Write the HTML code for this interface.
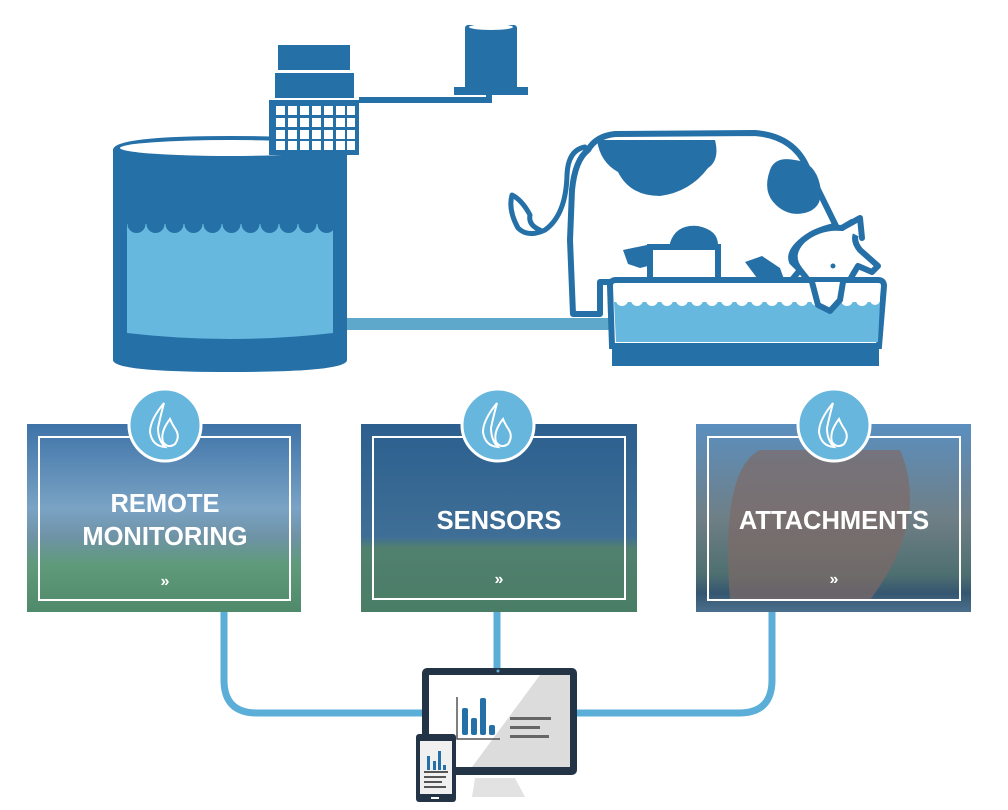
<!DOCTYPE html>
<html><head><meta charset="utf-8"><style>
html,body{margin:0;padding:0;background:#fff;width:1008px;height:810px;overflow:hidden}
svg{display:block}
text{font-family:"Liberation Sans",sans-serif;font-weight:bold;fill:#fff}
</style></head><body>
<svg width="1008" height="810" viewBox="0 0 1008 810" xmlns="http://www.w3.org/2000/svg">
<defs>
<linearGradient id="g1" x1="0" y1="0" x2="0" y2="1">
<stop offset="0" stop-color="#3e73a8"/><stop offset="0.45" stop-color="#7aa3c4"/><stop offset="0.6" stop-color="#6f93a6"/><stop offset="0.75" stop-color="#5f9a7a"/><stop offset="1" stop-color="#4f8a6a"/></linearGradient>
<linearGradient id="g2" x1="0" y1="0" x2="0" y2="1">
<stop offset="0" stop-color="#2c5f8f"/><stop offset="0.6" stop-color="#3f6f96"/><stop offset="0.66" stop-color="#51806f"/><stop offset="1" stop-color="#4a7d66"/></linearGradient>
<linearGradient id="g3" x1="0" y1="0" x2="0" y2="1">
<stop offset="0" stop-color="#5b8fbf"/><stop offset="0.5" stop-color="#6f7f86"/><stop offset="0.8" stop-color="#4e6f70"/><stop offset="0.9" stop-color="#355670"/><stop offset="1" stop-color="#4a6f8c"/></linearGradient>
<pattern id="wave" x="127" y="224" width="19" height="10" patternUnits="userSpaceOnUse">
<circle cx="9.5" cy="0" r="9" fill="#2670a8"/></pattern>
</defs>

<!-- connectors -->
<g fill="none" stroke="#5aaed8" stroke-width="7">
<path d="M224 612 V680 Q224 713 257 713 H422"/>
<path d="M497 612 V668"/>
<path d="M772 612 V680 Q772 713 739 713 H576"/>
</g>

<!-- pipe -->
<rect x="345" y="318" width="265" height="12" fill="#5ea8cc"/>

<!-- tank -->
<path d="M113 150 Q113 136 230 136 Q347 136 347 150 V360 Q347 372 230 372 Q113 372 113 360 Z" fill="#2670a8"/>
<ellipse cx="230" cy="148" rx="110" ry="8" fill="#fff"/>
<path d="M127 224 H333 V333 Q230 345 127 333 Z" fill="#66b8df"/>
<rect x="127" y="224" width="206" height="10" fill="url(#wave)"/>

<!-- sensor -->
<rect x="278" y="45" width="72" height="25" fill="#2670a8"/>
<rect x="275" y="73" width="79" height="25" fill="#2670a8"/>
<rect x="269" y="100" width="90" height="55" fill="#2670a8"/>
<g fill="#fff">
<g id="row"><rect x="276" y="106" width="9" height="9"/><rect x="288" y="106" width="9" height="9"/><rect x="300" y="106" width="9" height="9"/><rect x="312" y="106" width="9" height="9"/><rect x="324" y="106" width="9" height="9"/><rect x="336" y="106" width="9" height="9"/><rect x="347" y="106" width="8" height="9"/></g>
<use href="#row" y="12"/><use href="#row" y="24"/><use href="#row" y="35"/>
</g>
<path d="M359 100 H489 V93" fill="none" stroke="#2670a8" stroke-width="6"/>
<rect x="465" y="25" width="52" height="65" rx="3" fill="#2670a8"/>
<ellipse cx="491" cy="27" rx="22" ry="3" fill="#fff"/>
<rect x="454" y="87" width="74" height="8" fill="#2670a8"/>

<!-- cow -->
<g stroke="#2670a8" stroke-width="6" fill="#fff" stroke-linejoin="round" stroke-linecap="round">
<path d="M588 150 Q596 136 615 134 L755 133 Q792 136 806 165 L836 226 Q820 228 803 240 Q788 252 792 262 L800 270 L790 282 L600 282 L600 314 L573 314 L570 240 L572 190 Q575 160 588 150 Z"/>
<path d="M585 147 Q568 150 567 175 Q566 215 545 230 Q528 238 518 228 Q508 210 512 195 Q522 200 530 215 Q528 225 540 230" fill="none" stroke-width="5"/>
<path d="M803 240 Q820 226 842 228 L852 222 L857 232 Q852 240 860 250 L878 266 L872 272 L858 266 Q848 282 840 300 L830 311 L818 305 L812 285 L800 270 Q788 255 803 240 Z"/>
<path d="M842 228 L860 218 L862 238" />
</g>
<g fill="#2670a8">
<path d="M597 140 L715 140 Q720 160 708 168 Q690 192 660 196 Q630 196 618 172 Q600 162 597 140Z"/>
<path d="M770 170 Q775 156 795 160 Q815 162 820 185 Q824 206 808 212 Q790 218 776 205 Q762 192 770 170Z"/>
<path d="M670 243 Q676 224 698 226 Q718 230 718 245 L670 245Z"/>
<path d="M623 250 L652 244 L652 265 L640 268 L628 264Z"/>
<path d="M745 262 L762 256 L780 268 L785 282 L760 282Z"/>
</g>
<rect x="650" y="247" width="68" height="36" fill="#fff" stroke="#2670a8" stroke-width="6"/>
<circle cx="833" cy="266" r="2.5" fill="#2670a8"/>

<!-- trough -->
<path d="M610 286 Q610 280 616 280 H878 Q884 280 884 286 L879 346 H612 Z" fill="#fff" stroke="#2670a8" stroke-width="6"/>
<path d="M614 302 H880 L878 342 H616 Z" fill="#66b8df"/>
<rect x="612" y="344" width="267" height="22" fill="#2670a8"/>
<g fill="#fff">
<circle cx="622" cy="300" r="6"/><circle cx="637" cy="300" r="6"/><circle cx="652" cy="300" r="6"/><circle cx="667" cy="300" r="6"/><circle cx="682" cy="300" r="6"/><circle cx="697" cy="300" r="6"/><circle cx="712" cy="300" r="6"/><circle cx="727" cy="300" r="6"/><circle cx="742" cy="300" r="6"/><circle cx="757" cy="300" r="6"/><circle cx="772" cy="300" r="6"/><circle cx="787" cy="300" r="6"/><circle cx="802" cy="300" r="6"/><circle cx="817" cy="300" r="6"/><circle cx="832" cy="300" r="6"/><circle cx="847" cy="300" r="6"/><circle cx="862" cy="300" r="6"/><circle cx="875" cy="300" r="5"/>
</g>
<path d="M812 282 L818 305 L830 311 L840 300 L843 282" fill="#fff" stroke="#2670a8" stroke-width="6" stroke-linejoin="round"/>

<!-- panels -->
<rect x="27" y="424" width="274" height="188" fill="url(#g1)"/>
<rect x="361" y="424" width="276" height="188" fill="url(#g2)"/>
<rect x="696" y="424" width="275" height="188" fill="url(#g3)"/>
<path d="M730 600 Q720 470 760 450 L900 450 Q930 520 870 600Z" fill="#7d6a66" opacity="0.7"/>
<g fill="none" stroke="#fff" stroke-width="2">
<rect x="39" y="437" width="251" height="163"/>
<rect x="373" y="437" width="252" height="162"/>
<rect x="708" y="437" width="252" height="163"/>
</g>
<g font-size="25.5" text-anchor="middle">
<text x="165" y="512">REMOTE</text>
<text x="165" y="545">MONITORING</text>
<text x="499" y="529">SENSORS</text>
<text x="834" y="529">ATTACHMENTS</text>
</g>
<g font-size="16" text-anchor="middle"><text x="165" y="586">»</text><text x="499" y="584">»</text><text x="834" y="584">»</text></g>

<!-- circles -->
<g>
<circle cx="165" cy="425" r="36" fill="#66b6dd" stroke="#fff" stroke-width="3"/>
<circle cx="498" cy="425" r="36" fill="#66b6dd" stroke="#fff" stroke-width="3"/>
<circle cx="834" cy="425" r="36" fill="#66b6dd" stroke="#fff" stroke-width="3"/>
</g>
<g id="drop" fill="none" stroke="#fff" stroke-width="2">
<path d="M164 403 Q150 420 150 432 Q152 446 165 447 Q158 440 158 428 Q160 418 164 403Z"/>
<path d="M170 419 Q160 432 163 442 Q168 449 175 444 Q180 437 176 430 Q172 424 170 419Z"/>
</g>
<use href="#drop" x="333"/><use href="#drop" x="669"/>

<!-- monitor -->
<rect x="422" y="668" width="155" height="107" rx="5" fill="#233447"/>
<path d="M429 675 H570 V767 H429 Z" fill="#fff"/>
<path d="M540 675 H570 V767 H472 Z" fill="#dcdcdc"/>
<circle cx="498" cy="671" r="1.5" fill="#5aaed8"/>
<path d="M475 778 H515 L525 797 H472 Z" fill="#e2e2e2"/>
<path d="M457 697 V739 H500" fill="none" stroke="#555" stroke-width="1.5"/>
<g fill="#2670a8"><rect x="462" y="708" width="6" height="27" rx="2"/><rect x="471" y="718" width="6" height="17" rx="2"/><rect x="480" y="698" width="6" height="37" rx="2"/><rect x="489" y="725" width="6" height="10" rx="2"/></g>
<g fill="#666"><rect x="510" y="717" width="41" height="3"/><rect x="510" y="726" width="30" height="3"/><rect x="510" y="735" width="39" height="3"/></g>
<!-- phone -->
<rect x="416" y="734" width="40" height="68" rx="3" fill="#233447"/>
<rect x="420" y="741" width="32" height="53" fill="#f0f0f0"/>
<rect x="431" y="797" width="8" height="2" fill="#fff"/>
<g fill="#2670a8"><rect x="427" y="756" width="3" height="14"/><rect x="433" y="761" width="3" height="9"/><rect x="438" y="751" width="3" height="19"/><rect x="443" y="765" width="3" height="5"/></g>
<g fill="#555"><rect x="424" y="771" width="24" height="2"/><rect x="424" y="776" width="22" height="2"/><rect x="424" y="781" width="18" height="2"/><rect x="424" y="786" width="22" height="2"/></g>
</svg>
</body></html>
